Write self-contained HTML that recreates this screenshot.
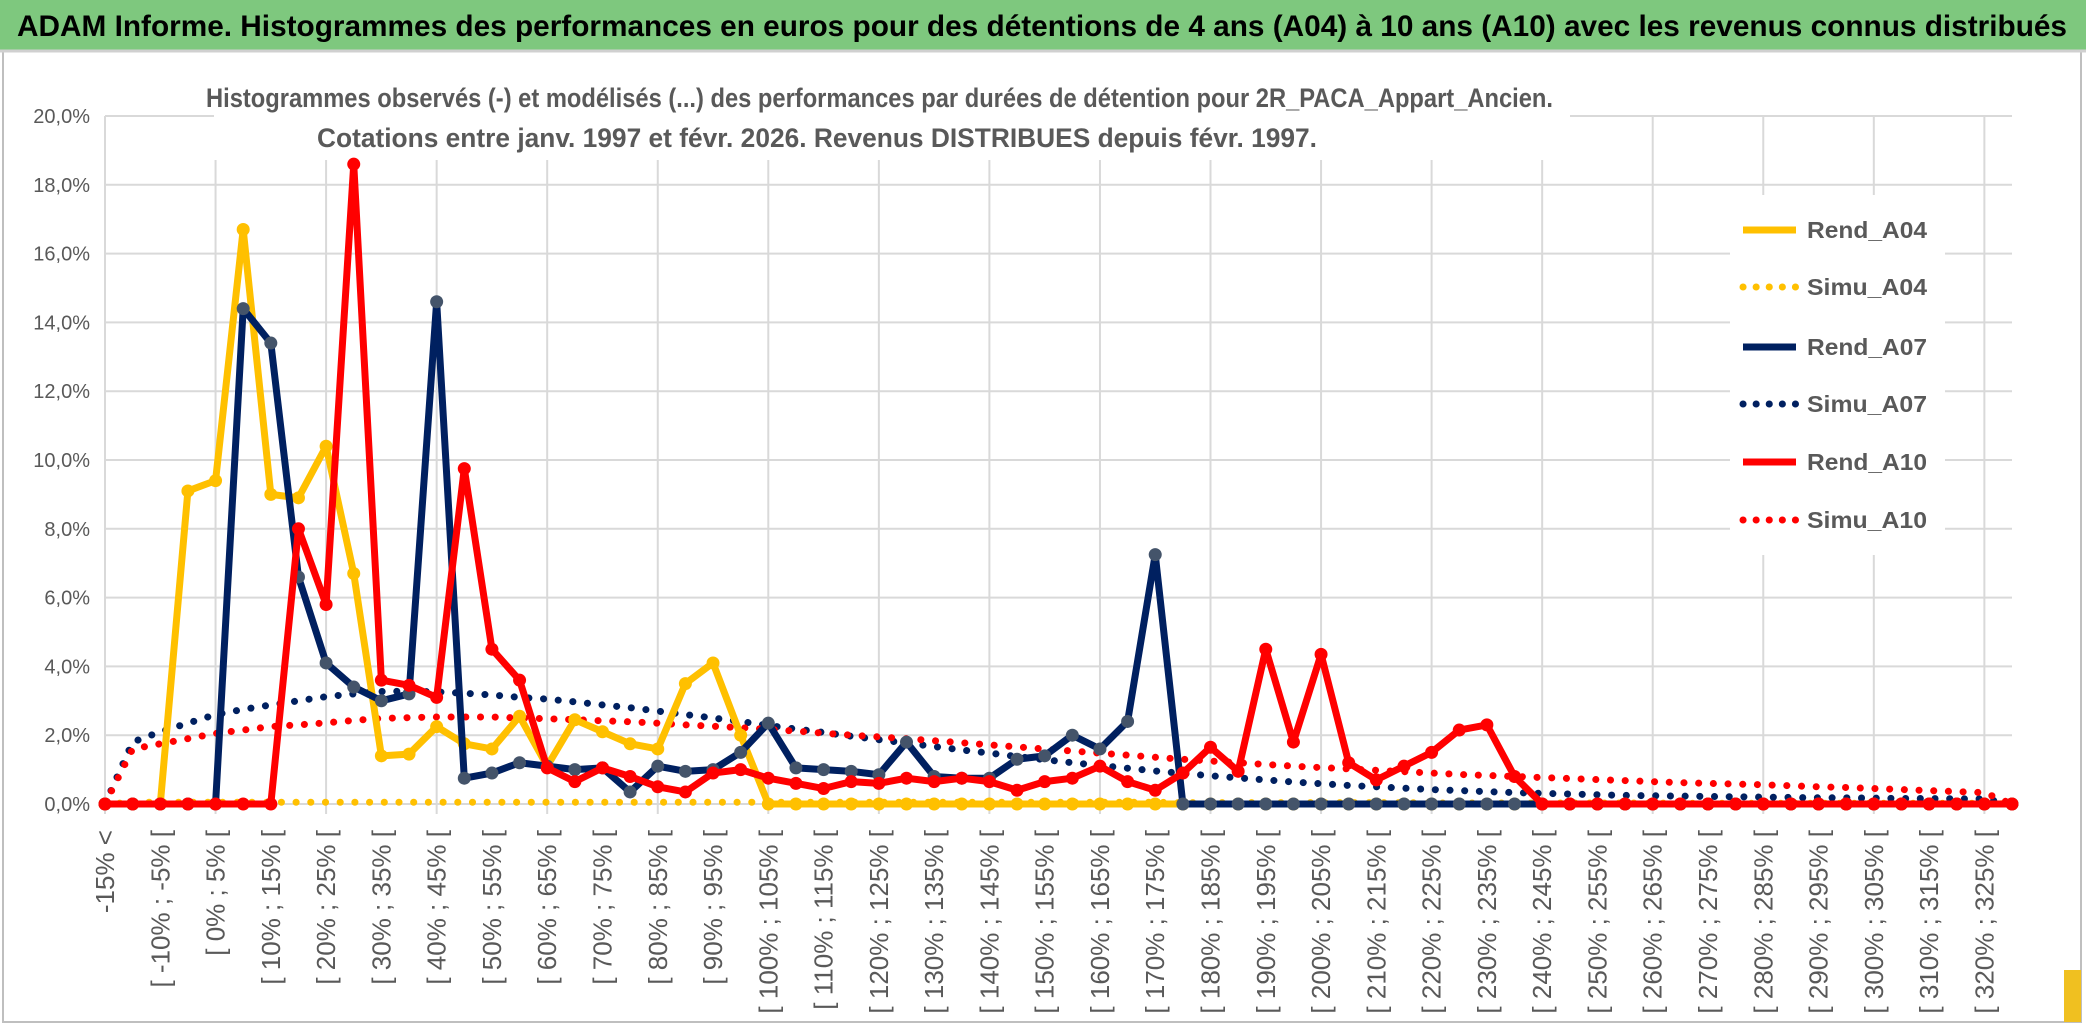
<!DOCTYPE html>
<html><head><meta charset="utf-8"><style>
html,body{margin:0;padding:0;background:#fff;}
svg{display:block;font-family:"Liberation Sans",sans-serif;}
</style></head><body>
<svg id="chart" width="2086" height="1031" viewBox="0 0 2086 1031" xmlns="http://www.w3.org/2000/svg">
<rect x="0" y="0" width="2086" height="1031" fill="#fff"/>
<rect x="3" y="50" width="2078" height="972" fill="none" stroke="#bfbfbf" stroke-width="2"/>
<rect x="0" y="0" width="2086" height="50" fill="#7ec87e"/>
<line x1="0" y1="51" x2="2086" y2="51" stroke="#d0d0d0" stroke-width="3"/>
<text x="17" y="36" font-size="30" font-weight="bold" fill="#000" textLength="2050" lengthAdjust="spacingAndGlyphs">ADAM Informe. Histogrammes des performances en euros pour des détentions de 4 ans (A04) à 10 ans (A10) avec les revenus connus distribués</text>
<g id="grid"></g>
<g id="yaxis"></g>
<g id="xaxis"></g>
<rect x="214" y="70" width="1356" height="90" fill="#fff"/>
<text x="206" y="107" font-size="27" font-weight="bold" fill="#595959" textLength="1347" lengthAdjust="spacingAndGlyphs">Histogrammes observés (-) et modélisés (...) des performances par durées de détention pour 2R_PACA_Appart_Ancien.</text>
<text x="317" y="147" font-size="27" font-weight="bold" fill="#595959" textLength="1000" lengthAdjust="spacingAndGlyphs">Cotations entre janv. 1997 et févr. 2026. Revenus DISTRIBUES depuis févr. 1997.</text>
<g id="series"></g>
<g id="legend"></g>
<rect x="2064" y="970" width="17" height="52" fill="#f0c020"/>
</svg>
<script>
const yTicks = [0,2,4,6,8,10,12,14,16,18,20];
const yTickLabels = ["0,0%","2,0%","4,0%","6,0%","8,0%","10,0%","12,0%","14,0%","16,0%","18,0%","20,0%"];
const categories = ["-15% <"];
for (let a = -15; a < 330; a += 5) categories.push("[ " + a + "% ; " + (a + 5) + "% [");
const rendA04 = [0,0,0,9.1,9.4,16.7,9.0,8.9,10.4,6.7,1.4,1.45,2.25,1.75,1.6,2.55,1.1,2.45,2.1,1.75,1.6,3.5,4.1,2.0,0,0,0,0,0,0,0,0,0,0,0,0,0,0,0,0,0,0,0,0,0,0,0,0,0,0,0,0,0,0,0,0,0,0,0,0,0,0,0,0,0,0,0,0,0,0];
const simuA04 = [0,0.05,0.05,0.05,0.05,0.05,0.05,0.05,0.05,0.05,0.05,0.05,0.05,0.05,0.05,0.05,0.05,0.05,0.05,0.05,0.05,0.05,0.05,0.05,0.05,0.05,0.05,0.05,0.05,0.05,0.05,0.05,0.05,0.05,0.05,0.05,0.05,0.05,0.05,0.04,0.04,0.04,0.04,0.04,0.04,0.04,0.04,0.04,0.03,0.03,0.03,0.03,0.03,0.03,0.03,0.03,0.03,0.02,0.02,0.02,0.02,0.02,0.02,0.02,0.02,0.02,0.02,0.02,0.02,0];
const rendA07 = [0,0,0,0,0,14.4,13.4,6.6,4.1,3.4,3.0,3.2,14.6,0.75,0.9,1.2,1.1,1.0,1.05,0.35,1.1,0.95,1.0,1.5,2.35,1.05,1.0,0.95,0.85,1.8,0.8,0.75,0.75,1.3,1.4,2.0,1.6,2.4,7.25,0,0,0,0,0,0,0,0,0,0,0,0,0,0,0,0,0,0,0,0,0,0,0,0,0,0,0,0,0,0,0];
const simuA07 = [0,1.8,2.1,2.35,2.6,2.75,2.88,3.0,3.12,3.2,3.27,3.28,3.26,3.22,3.17,3.1,3.05,2.97,2.88,2.8,2.7,2.6,2.5,2.4,2.28,2.18,2.08,1.97,1.87,1.77,1.67,1.57,1.48,1.38,1.29,1.2,1.12,1.04,0.96,0.89,0.82,0.76,0.7,0.64,0.59,0.54,0.5,0.46,0.42,0.39,0.36,0.33,0.31,0.29,0.27,0.25,0.24,0.23,0.22,0.21,0.2,0.19,0.18,0.18,0.17,0.16,0.16,0.15,0.15,0];
const rendA10 = [0,0,0,0,0,0,0,8.0,5.8,18.6,3.6,3.45,3.1,9.75,4.5,3.6,1.05,0.65,1.05,0.8,0.5,0.35,0.9,1.0,0.75,0.6,0.45,0.65,0.6,0.75,0.65,0.75,0.65,0.4,0.65,0.75,1.1,0.65,0.4,0.9,1.65,0.95,4.5,1.8,4.35,1.2,0.7,1.1,1.5,2.15,2.3,0.8,0,0,0,0,0,0,0,0,0,0,0,0,0,0,0,0,0,0];
const simuA10 = [0,1.6,1.75,1.9,2.05,2.15,2.25,2.3,2.36,2.43,2.49,2.51,2.53,2.53,2.53,2.5,2.48,2.45,2.42,2.39,2.35,2.3,2.26,2.22,2.17,2.12,2.06,2.0,1.95,1.9,1.84,1.78,1.72,1.66,1.6,1.54,1.48,1.42,1.36,1.3,1.25,1.2,1.15,1.1,1.06,1.02,0.98,0.94,0.9,0.86,0.83,0.8,0.77,0.74,0.71,0.68,0.65,0.62,0.6,0.58,0.56,0.53,0.5,0.48,0.45,0.42,0.39,0.36,0.33,0];
const seriesNames = ["Rend_A04","Simu_A04","Rend_A07","Simu_A07","Rend_A10","Simu_A10"];

const NS = "http://www.w3.org/2000/svg";
const X0 = 105, X1 = 2012, Y0 = 804, Y1 = 116, YMAX = 20;
const n = categories.length;
function xPos(i){ return X0 + (X1 - X0) * i / (n - 1); }
function yPos(v){ return Y0 - (Y0 - Y1) * v / YMAX; }
function mk(tag, attrs, parent){ const e = document.createElementNS(NS, tag); for (const k in attrs) e.setAttribute(k, attrs[k]); parent.appendChild(e); return e; }

const grid = document.getElementById('grid');
yTicks.forEach(function(t){
  const l = mk('line', {x1:X0, x2:X1, y1:yPos(t), y2:yPos(t), stroke:'#d9d9d9', 'stroke-width':2}, grid);
  
  
});
for (let i = 0; i < n; i += 4) {
  const l = mk('line', {x1:xPos(i), x2:xPos(i), y1:Y1, y2:Y0 + 10, stroke:'#d9d9d9', 'stroke-width':2}, grid);
  
  
}
const yaxis = document.getElementById('yaxis');
yTicks.forEach(function(t, k){
  const tx = mk('text', {x:90, y:yPos(t) + 7, 'font-size':20, fill:'#595959', 'text-anchor':'end'}, yaxis);
  tx.textContent = yTickLabels[k];
  
  
});
const xaxis = document.getElementById('xaxis');
for (let i = 0; i < n; i += 2) {
  const x = xPos(i) + 9, y = 830;
  const tx = mk('text', {x:x, y:y, 'font-size':26, fill:'#595959', 'text-anchor':'end', transform:'rotate(-90 ' + x + ' ' + y + ')'}, xaxis);
  tx.textContent = categories[i];
  
  
}

const ser = document.getElementById('series');
function pts(arr){ return arr.map(function(v, i){ return xPos(i) + ',' + yPos(v); }).join(' '); }
function dotted(arr, color, name){
  const p = mk('polyline', {points:pts(arr), fill:'none', stroke:color, 'stroke-width':7, 'stroke-linecap':'round', 'stroke-dasharray':'0.1 14.6'}, ser);
  
  
}
function solid(arr, color, mcolor, name){
  const g = mk('g', {}, ser);
  
  
  mk('polyline', {points:pts(arr), fill:'none', stroke:color, 'stroke-width':7, 'stroke-linejoin':'round'}, g);
  arr.forEach(function(v, i){
    const c = mk('circle', {cx:xPos(i), cy:yPos(v), r:6.5, fill:mcolor}, g);
    
    
  });
}
dotted(simuA04, '#FFC000', 'simu-a04-line');
dotted(simuA07, '#002060', 'simu-a07-line');
dotted(simuA10, '#FF0000', 'simu-a10-line');
solid(rendA04, '#FFC000', '#FFC000', 'rend-a04-line');
solid(rendA07, '#002060', '#44546a', 'rend-a07-line');
solid(rendA10, '#FF0000', '#FF0000', 'rend-a10-line');

const leg = document.getElementById('legend');
mk('rect', {x:1730, y:195, width:215, height:360, fill:'#fff'}, leg);
const legColors = ['#FFC000','#FFC000','#002060','#002060','#FF0000','#FF0000'];
const legY = [230, 287, 347, 404, 462, 520];
seriesNames.forEach(function(nm, k){
  const dot = nm.indexOf('Simu') === 0;
  const attrs = {x1:1743, x2:1796, y1:legY[k], y2:legY[k], stroke:legColors[k], 'stroke-width':7};
  if (dot) { attrs['stroke-linecap'] = 'round'; attrs['stroke-dasharray'] = '0.1 13'; }
  const l = mk('line', attrs, leg);
  
  
  const t = mk('text', {x:1807, y:legY[k] + 8, 'font-size':23, 'font-weight':'bold', fill:'#595959', textLength:120, lengthAdjust:'spacingAndGlyphs'}, leg);
  t.textContent = nm;
  
  
});
</script>
</body></html>
